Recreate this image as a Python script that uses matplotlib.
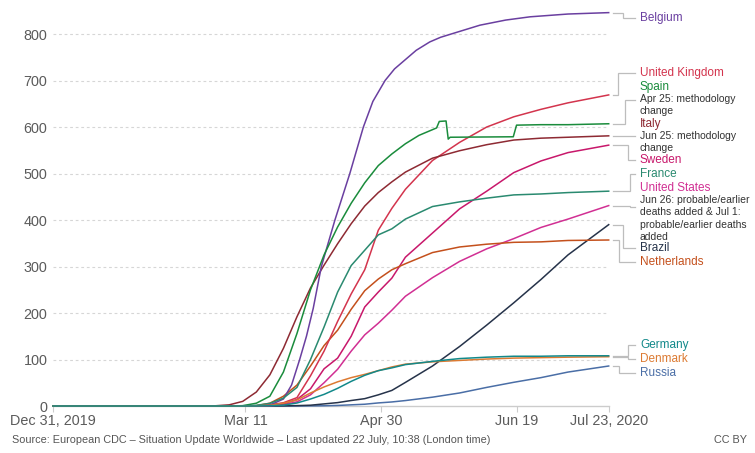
import matplotlib
matplotlib.use("Agg")
import matplotlib.pyplot as plt

plt.rcParams['font.family'] = ['Liberation Sans', 'DejaVu Sans']

# ---- data: cumulative confirmed COVID-19 deaths per million, days since Dec 31, 2019 ----
days = [0, 60, 65, 70, 75, 80, 85, 90, 95, 100, 105, 110, 115, 120, 125, 130, 140, 150, 160, 170, 180, 190, 205]

italy = [0, 0.5, 2.5, 10, 30, 67, 124, 192, 254, 303, 349, 392, 430, 459, 482, 503, 533, 549, 562, 572, 576, 578, 581]
uk = [0, 0, 0, 0.1, 0.5, 2.7, 7, 18, 65, 118, 182, 241, 293, 378, 425, 466, 528, 567, 600, 622, 638, 652, 669]
france = [0, 0, 0, 0.5, 1.4, 5.7, 17, 40, 100, 170, 245, 302, 335, 368, 381, 402, 429, 439, 447, 454, 456, 459, 462]
netherlands = [0, 0, 0, 0.1, 0.7, 6, 21, 45, 86, 130, 163, 208, 248, 273, 293, 306, 330, 342, 348, 352, 353, 356, 357]
sweden = [0, 0, 0, 0, 0.1, 1.6, 4.5, 14, 37, 80, 103, 150, 213, 245, 275, 320, 372, 424, 462, 502, 527, 545, 561]
united_states = [0, 0, 0, 0, 0.1, 0.6, 3, 9, 24, 50, 79, 118, 153, 178, 206, 236, 276, 311, 338, 360, 384, 402, 431]
brazil = [0, 0, 0, 0, 0, 0.1, 0.3, 0.8, 1.7, 4.5, 7.3, 11.8, 15.8, 24, 33.5, 50.7, 86, 128, 174, 222, 272, 325, 390]
germany = [0, 0, 0, 0, 0.1, 0.5, 1.8, 6.5, 15, 25, 38, 53, 66, 76, 82, 89, 96, 102, 105, 107, 107, 108, 108]
denmark = [0, 0, 0, 0, 0.5, 1.5, 6, 13, 28, 41, 52, 61, 68, 76, 84, 90, 95, 98, 101, 103, 104, 105, 106]
russia = [0, 0, 0, 0, 0, 0, 0, 0.1, 0.2, 0.5, 1.2, 2.5, 3.8, 6.6, 8.7, 11.7, 19, 28, 40, 51, 61, 73, 86]

belgium_days = [0, 75, 80, 85, 88, 91, 93.5, 96, 99, 104, 109.5, 114.5, 118, 122.5, 126, 130, 134, 139, 143,
                148, 157.5, 167, 176, 190, 205]
belgium = [0, 0, 2, 15, 45, 100, 150, 210, 300, 400, 500, 600, 655, 700, 725, 745, 765, 783, 793,
           802, 819, 830, 837, 843, 846]

spain_days = [0, 65, 70, 75, 80, 85, 90, 95, 100, 105, 110, 115, 120, 125, 130, 135, 141.5, 142.5, 145, 145.8,
              146.5, 169.8, 171, 180, 190, 205]
spain = [0, 0, 0.7, 6, 21, 73, 156, 250, 325, 385, 436, 480, 517, 542, 564, 582, 598, 612, 613, 574,
         578, 579, 604, 605, 605, 607]

x_ticks = [0, 71, 121, 171, 205]
x_tick_labels = ["Dec 31, 2019", "Mar 11", "Apr 30", "Jun 19", "Jul 23, 2020"]
y_ticks = [0, 100, 200, 300, 400, 500, 600, 700, 800]

source_text = "Source: European CDC \u2013 Situation Update Worldwide \u2013 Last updated 22 July, 10:38 (London time)"
license_text = "CC BY"

# ---- figure ----
W, H = 755, 453
fig = plt.figure(figsize=(W / 100, H / 100), dpi=100)
ax = fig.add_axes([53 / W, (H - 406) / H, (608.7 - 53) / W, (406 - 5) / H])
ax.set_xlim(0, 205)
ax.set_ylim(0, 862.4)

for s in ['top', 'right', 'left']:
    ax.spines[s].set_visible(False)
ax.spines['bottom'].set_color('#cccccc')
ax.spines['bottom'].set_linewidth(1.0)

ax.set_yticks(y_ticks)
ax.set_yticklabels([str(v) for v in y_ticks])
ax.set_xticks(x_ticks)
ax.set_xticklabels(x_tick_labels)
ax.tick_params(axis='y', length=0, pad=4, labelsize=10.4, labelcolor='#5b5b5b')
ax.tick_params(axis='x', length=4, width=0.8, color='#cccccc', pad=2, labelsize=10.4, labelcolor='#5b5b5b')
ax.yaxis.grid(True, color='#d6d6d6', linestyle=(0, (2.5, 2.5)), linewidth=0.8)
ax.set_axisbelow(True)
for gl, v in zip(ax.yaxis.get_gridlines(), y_ticks):
    if v == 0:
        gl.set_visible(False)

series = [
    ("Russia", days, russia, "#4a6ea6"),
    ("Brazil", days, brazil, "#26334a"),
    ("United States", days, united_states, "#d12f93"),
    ("Sweden", days, sweden, "#c8186b"),
    ("Netherlands", days, netherlands, "#c4501c"),
    ("United Kingdom", days, uk, "#d3344d"),
    ("Italy", days, italy, "#8e2a33"),
    ("Belgium", belgium_days, belgium, "#6a3fa0"),
    ("Spain", spain_days, spain, "#1a8c3c"),
    ("France", days, france, "#2a8a70"),
    ("Denmark", days, denmark, "#dc7a32"),
    ("Germany", days, germany, "#12898a"),
]
ends = {}
for name, d, v, c in series:
    ax.plot(d, v, color=c, lw=1.1, solid_joinstyle='round', clip_on=False, zorder=3)
    ends[name] = (d[-1], v[-1], c)

# ---- overlay in pixel coords for labels / connectors ----
ov = fig.add_axes([0, 0, 1, 1], zorder=5)
ov.set_xlim(0, W)
ov.set_ylim(H, 0)
ov.axis('off')
ov.patch.set_alpha(0)

fig.canvas.draw()


def end_px(name):
    dx, dv, _ = ends[name]
    disp = ax.transData.transform((dx, dv))
    return disp[0], H - disp[1]


# name, name_y, annotation lines, connector target y, bracket x
labels = [
    ("Belgium", 18, [], 18, 623),
    ("United Kingdom", 73, [], 73, 618),
    ("Spain", 87, ["Apr 25: methodology", "change"], 100, 625),
    ("Italy", 124, ["Jun 25: methodology", "change"], 136, 625),
    ("Sweden", 160, [], 160, 628),
    ("France", 174, [], 174, 630),
    ("United States", 188, ["Jun 26: probable/earlier", "deaths added & Jul 1:",
                            "probable/earlier deaths", "added"], 207, 630),
    ("Brazil", 248, [], 248, 623),
    ("Netherlands", 262, [], 262, 619),
    ("Germany", 345, [], 345, 628),
    ("Denmark", 359, [], 359, 628),
    ("Russia", 373, [], 373, 619),
]
for name, ny, ann, ty, bx in labels:
    ex, ey = end_px(name)
    col = ends[name][2]
    sx = ex + 4
    ov.plot([sx, bx, bx, 635], [ey, ey, ty, ty], color='#bdbdbd', lw=0.9,
            solid_joinstyle='miter')
    ov.text(640, ny, name, color=col, fontsize=8.5, va='center', ha='left')
    for i, line in enumerate(ann):
        ov.text(640, ny + 12.2 * (i + 1), line, color='#333333', fontsize=7.5,
                va='center', ha='left')

ov.text(12, 440, source_text, color='#555555', fontsize=7.8, va='center', ha='left')
ov.text(747, 440, license_text, color='#555555', fontsize=7.8, va='center', ha='right')

fig.savefig("out.png", dpi=100)
